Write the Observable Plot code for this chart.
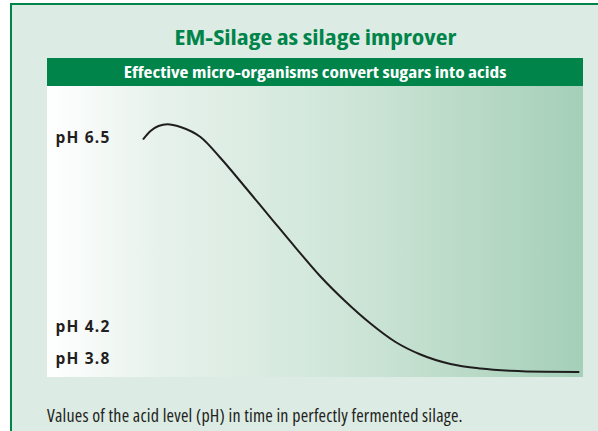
<!DOCTYPE html>
<html><head><meta charset="utf-8">
<script src="https://cdn.jsdelivr.net/npm/d3@7"></script>
<script src="https://cdn.jsdelivr.net/npm/@observablehq/plot@0.6"></script>
<style>
html,body{margin:0;padding:0;background:#fff;}
body{width:598px;height:431px;overflow:hidden;position:relative;font-family:"Open Sans",sans-serif;}
#panel{position:absolute;left:10px;top:3px;width:588px;height:428px;background:#dcebe3;border-top:2px solid #00844a;border-left:2px solid #00844a;box-sizing:border-box;}
#title{position:absolute;left:47px;width:536px;top:24px;height:26px;line-height:26px;text-align:center;color:#00844a;font-weight:bold;font-size:21px;font-stretch:75%;}
#title span{display:inline-block;transform:scaleX(1.22);transform-origin:50% 50%;white-space:nowrap;}
#band{position:absolute;left:47px;top:58px;width:536px;height:28px;line-height:28px;background:#00844a;color:#fff;font-weight:bold;font-size:16px;font-stretch:75%;text-align:center;}
#band span{display:inline-block;transform:scaleX(1.21);transform-origin:50% 50%;white-space:nowrap;}
#chart{position:absolute;left:47px;top:86px;width:536px;height:291px;}
#chart svg{display:block;}
#caption{position:absolute;left:47px;top:403px;font-size:18px;font-stretch:75%;letter-spacing:0.2px;color:#231f20;line-height:24px;white-space:nowrap;}
</style></head>
<body>
<div id="panel"></div>
<div id="title"><span>EM-Silage as silage improver</span></div>
<div id="band"><span>Effective micro-organisms convert sugars into acids</span></div>
<div id="chart"></div>
<div id="caption">Values of the acid level (pH) in time in perfectly fermented silage.</div>
<script>
// time (arbitrary units) and pH values
const time = [17.91, 19.22, 20.71, 22.39, 24.81, 28.54, 32.28, 36.94, 41.60, 46.27, 50.93, 55.60, 60.26, 64.93, 69.59, 75.19, 80.78, 86.38, 92.91, 99.07];
const ph   = [6.496, 6.592, 6.653, 6.675, 6.641, 6.518, 6.262, 5.901, 5.534, 5.167, 4.813, 4.507, 4.238, 4.012, 3.859, 3.743, 3.688, 3.660, 3.648, 3.646];
const tickValues = [6.5, 4.2, 3.8];
const tickLabels = ["pH 6.5", "pH 4.2", "pH 3.8"];

const curve = time.map((t, i) => ({t, ph: ph[i]}));
const labels = tickValues.map((v, i) => ({v, label: tickLabels[i]}));

const chart = Plot.plot({
  width: 536,
  height: 291,
  margin: 0,
  x: {domain: [0, 100], axis: null},
  y: {domain: [3.578, 7.136], axis: null},
  style: {
    background: "linear-gradient(to right, #ffffff 0%, #e6f1eb 22%, #d3e8dc 50%, #bddcca 75%, #a5cfb8 100%)",
    fontFamily: "'Open Sans',sans-serif",
    overflow: "visible"
  },
  marks: [
    Plot.line(curve, {x: "t", y: "ph", curve: "monotone-x", stroke: "#1f1d1e", strokeWidth: 2}),
    Plot.text(labels, {frameAnchor: "left", y: "v", text: "label", textAnchor: "start", dx: 8, fontSize: 15.5, fontWeight: "bold", fill: "#231f20"})
  ]
});
chart.querySelectorAll("text").forEach(t => t.style.letterSpacing = "1.2px");
document.getElementById("chart").appendChild(chart);
</script>
</body></html>
